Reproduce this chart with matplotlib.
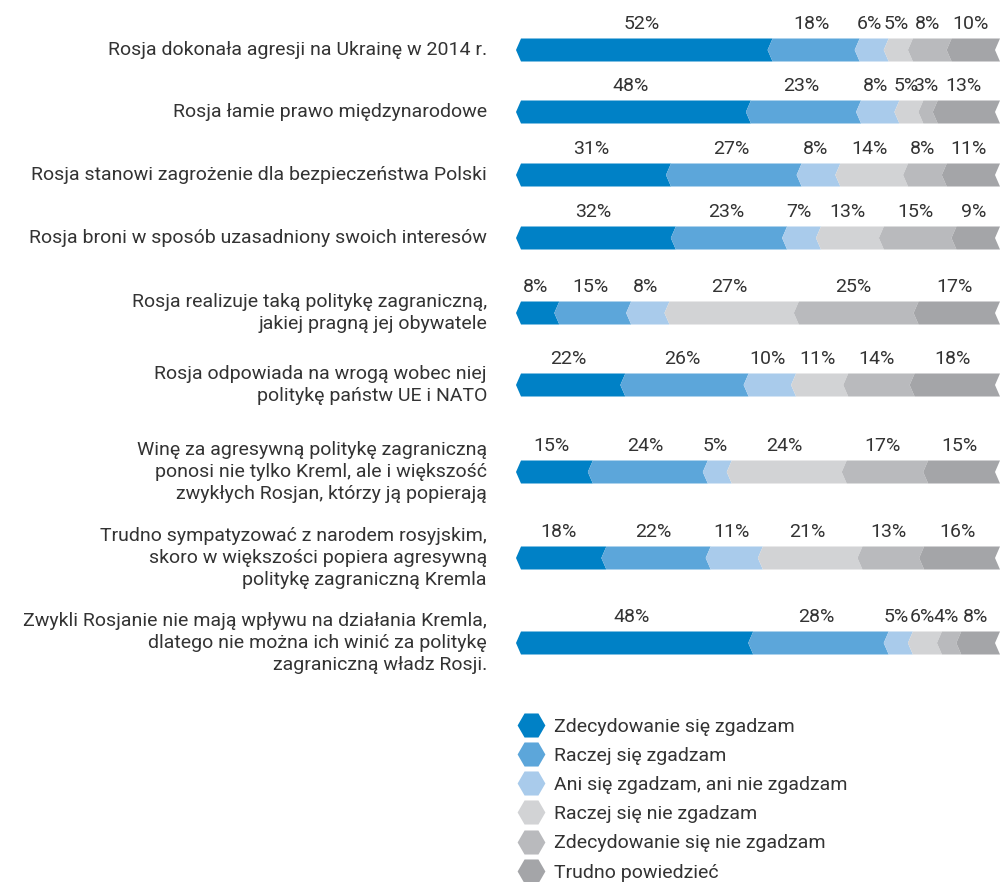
import matplotlib.pyplot as plt
import numpy as np
from matplotlib.patches import Polygon
from matplotlib.lines import Line2D

plt.rcParams['font.family'] = ['Roboto', 'DejaVu Sans']

categories = [
    "Rosja dokonała agresji na Ukrainę w 2014 r.",
    "Rosja łamie prawo międzynarodowe",
    "Rosja stanowi zagrożenie dla bezpieczeństwa Polski",
    "Rosja broni w sposób uzasadniony swoich interesów",
    "Rosja realizuje taką politykę zagraniczną,\njakiej pragną jej obywatele",
    "Rosja odpowiada na wrogą wobec niej\npolitykę państw UE i NATO",
    "Winę za agresywną politykę zagraniczną\nponosi nie tylko Kreml, ale i większość\nzwykłych Rosjan, którzy ją popierają",
    "Trudno sympatyzować z narodem rosyjskim,\nskoro w większości popiera agresywną\npolitykę zagraniczną Kremla",
    "Zwykli Rosjanie nie mają wpływu na działania Kremla,\ndlatego nie można ich winić za politykę\nzagraniczną władz Rosji.",
]

answers = [
    "Zdecydowanie się zgadzam",
    "Raczej się zgadzam",
    "Ani się zgadzam, ani nie zgadzam",
    "Raczej się nie zgadzam",
    "Zdecydowanie się nie zgadzam",
    "Trudno powiedzieć",
]

values = np.array([
    [52, 18, 6, 5, 8, 10],
    [48, 23, 8, 5, 3, 13],
    [31, 27, 8, 14, 8, 11],
    [32, 23, 7, 13, 15, 9],
    [8, 15, 8, 27, 25, 17],
    [22, 26, 10, 11, 14, 18],
    [15, 24, 5, 24, 17, 15],
    [18, 22, 11, 21, 13, 16],
    [48, 28, 5, 6, 4, 8],
])

colors = ["#0081c6", "#5ca6da", "#a9cbeb", "#d2d3d5", "#b9babd", "#a4a5a8"]
text_color = "#333333"
fs = 14

# vertical centres of the rows, in pixels from the top
row_y = [50, 112, 175, 238, 313, 385, 472, 558, 643]

W, H = 1000, 882
fig = plt.figure(figsize=(W / 100, H / 100), dpi=100)

# full-figure axes for the category labels (pixel coordinates)
ax0 = fig.add_axes([0, 0, 1, 1])
ax0.set_xlim(0, W)
ax0.set_ylim(H, 0)
ax0.axis('off')

# bar axes: x in percent, y in pixels
left_px, right_px = 521, 1000
ax = fig.add_axes([left_px / W, 0, (right_px - left_px) / W, 1])
ax.set_xlim(0, 100)
ax.set_ylim(H, 0)
ax.axis('off')

half_h = 11.5
notch = 5 / (right_px - left_px) * 100

for i, row in enumerate(values):
    y = row_y[i]
    shares = row / row.sum() * 100
    starts = np.concatenate([[0], np.cumsum(shares)[:-1]])
    for j, (a, w) in enumerate(zip(starts, shares)):
        b = a + w
        verts = [(a, y - half_h), (b, y - half_h), (b - notch, y),
                 (b, y + half_h), (a, y + half_h), (a - notch, y)]
        ax.add_patch(Polygon(verts, closed=True, facecolor=colors[j],
                             edgecolor='none', clip_on=False))
        ax.text(a + w / 2 - notch, y - 26, f"{row[j]}%", ha='center', va='center',
                fontsize=fs, color=text_color)
    ax0.text(487, y, categories[i], ha='right', va='center', fontsize=fs,
             color=text_color, linespacing=1.3)

handles = [Line2D([], [], marker='H', linestyle='none', markersize=20,
                  markerfacecolor=c, markeredgecolor='none') for c in colors]
leg = ax0.legend(handles, answers, loc='upper left', bbox_to_anchor=(510 / W, 1 - 708 / H),
                 bbox_transform=fig.transFigure, frameon=False, fontsize=fs,
                 labelspacing=0.575, handlelength=1.2, handletextpad=0.55, borderpad=0)
for t in leg.get_texts():
    t.set_color(text_color)

fig.savefig("out.png", dpi=100)
